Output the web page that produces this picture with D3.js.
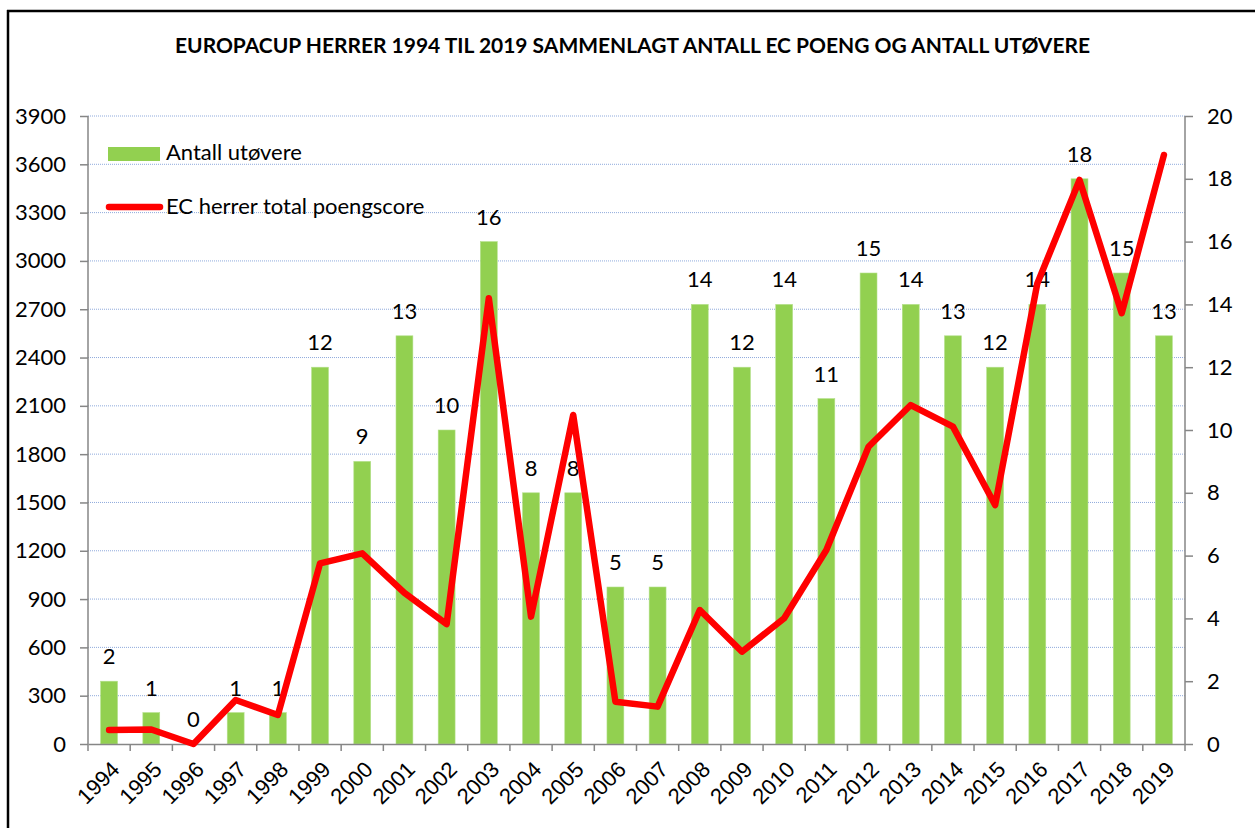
<!DOCTYPE html>
<html>
<head>
<meta charset="utf-8">
<script src="https://cdn.jsdelivr.net/npm/d3@7"></script>
<style>
  body { margin: 0; background: #fff; }
  svg { display: block; font-family: Lato, "Open Sans", sans-serif; }
</style>
</head>
<body>
<div id="chart"></div>
<script>
// data
var years = ["1994","1995","1996","1997","1998","1999","2000","2001","2002","2003","2004","2005","2006",
             "2007","2008","2009","2010","2011","2012","2013","2014","2015","2016","2017","2018","2019"];
var utovere = [2, 1, 0, 1, 1, 12, 9, 13, 10, 16, 8, 8, 5, 5, 14, 12, 14, 11, 15, 14, 13, 12, 14, 18, 15, 13];
var poeng = [87, 90, 0, 273, 180, 1122, 1184, 938, 745, 2768, 791, 2043, 263, 232, 832, 573, 781, 1205,
             1846, 2105, 1971, 1484, 2860, 3503, 2675, 3658];
var leftTicks = d3.range(0, 3901, 300);
var rightTicks = d3.range(0, 21, 2);
var title = "EUROPACUP HERRER 1994 TIL 2019 SAMMENLAGT ANTALL EC POENG OG ANTALL UTØVERE";

var width = 1255, height = 828;
var margin = { top: 116, right: 70, bottom: 84, left: 88 };
var innerW = width - margin.left - margin.right;   // 88 -> 1185
var innerH = height - margin.top - margin.bottom;  // 116 -> 744

var svg = d3.select("#chart").append("svg")
    .attr("width", width)
    .attr("height", height);

// frame (top and left edge only are visible)
svg.append("line").attr("x1", 7).attr("x2", width).attr("y1", 11).attr("y2", 11)
    .attr("stroke", "#000").attr("stroke-width", 2.5);
svg.append("line").attr("x1", 8).attr("x2", 8).attr("y1", 10).attr("y2", height)
    .attr("stroke", "#000").attr("stroke-width", 2.5);

svg.append("text")
    .attr("x", 175).attr("y", 53)
    .attr("textLength", 915).attr("lengthAdjust", "spacingAndGlyphs")
    .style("font-weight", "bold").style("font-size", "20px")
    .text(title);

var g = svg.append("g")
    .attr("transform", "translate(" + margin.left + "," + margin.top + ")");

var x = d3.scaleBand().domain(years).range([0, innerW]).paddingInner(0.6).paddingOuter(0.3);
var yLeft = d3.scaleLinear().domain([0, 3900]).range([innerH, 0]);
var yRight = d3.scaleLinear().domain([0, 20]).range([innerH, 0]);

// dotted gridlines
g.append("g").selectAll("line")
    .data(leftTicks.filter(function (d) { return d > 0; }))
    .enter().append("line")
    .attr("x1", 0).attr("x2", innerW)
    .attr("y1", function (d) { return yLeft(d); })
    .attr("y2", function (d) { return yLeft(d); })
    .attr("stroke", "#8faadc")
    .attr("stroke-width", 1)
    .attr("stroke-dasharray", "1,1");

// bars (right axis)
g.selectAll(".bar")
    .data(utovere)
    .enter().append("rect")
    .attr("class", "bar")
    .attr("x", function (d, i) { return x(years[i]); })
    .attr("width", x.bandwidth())
    .attr("y", function (d) { return yRight(d); })
    .attr("height", function (d) { return innerH - yRight(d); })
    .attr("fill", "#92d050")
    .attr("stroke", "#b4e08a")
    .attr("stroke-width", 0.6);

// bar labels
g.selectAll(".blabel")
    .data(utovere)
    .enter().append("text")
    .attr("class", "blabel")
    .attr("x", function (d, i) { return x(years[i]) + x.bandwidth() / 2; })
    .attr("y", function (d) { return yRight(d) - 17; })
    .attr("text-anchor", "middle")
    .style("font-size", "22px")
    .text(function (d) { return d; });

// axes
var axisColor = "#868686";
var left = g.append("g").call(d3.axisLeft(yLeft).tickValues(leftTicks).tickFormat(d3.format("d"))
    .tickSize(8).tickPadding(14));
var right = g.append("g").attr("transform", "translate(" + innerW + ",0)")
    .call(d3.axisRight(yRight).tickValues(rightTicks).tickSize(8).tickPadding(14));
var bottom = g.append("g").attr("transform", "translate(0," + innerH + ")")
    .call(d3.axisBottom(x).tickSize(0).tickFormat(""));

[left, right, bottom].forEach(function (a) {
    a.select(".domain").attr("stroke", axisColor).attr("stroke-width", 1.5);
    a.selectAll(".tick line").attr("stroke", axisColor).attr("stroke-width", 1.5);
    a.selectAll("text").style("font-family", "Lato, sans-serif").style("font-size", "22px").attr("fill", "#000");
});
left.select(".domain").attr("d", "M0,0V" + innerH);
right.select(".domain").attr("d", "M0,0V" + innerH);

// category boundary ticks on the x axis
var step = x.step();
bottom.append("g").selectAll("line")
    .data(d3.range(years.length + 1))
    .enter().append("line")
    .attr("x1", function (i) { return i * step; })
    .attr("x2", function (i) { return i * step; })
    .attr("y1", 0).attr("y2", 7)
    .attr("stroke", axisColor).attr("stroke-width", 1.5);

// rotated year labels
bottom.append("g").selectAll("text")
    .data(years)
    .enter().append("text")
    .attr("text-anchor", "end")
    .attr("fill", "#000")
    .attr("transform", function (d) {
        return "translate(" + (x(d) + x.bandwidth() / 2 + 1) + ",16) rotate(-45)";
    })
    .attr("dy", "0.7em")
    .style("font-size", "22px")
    .text(function (d) { return d; });

// line (left axis)
var line = d3.line()
    .x(function (d, i) { return x(years[i]) + x.bandwidth() / 2; })
    .y(function (d) { return yLeft(d); });

g.append("path")
    .datum(poeng)
    .attr("d", line)
    .attr("fill", "none")
    .attr("stroke", "#ff0000")
    .attr("stroke-width", 6.5)
    .attr("stroke-linejoin", "round")
    .attr("stroke-linecap", "round");

// legend
var legend = svg.append("g");
legend.append("rect")
    .attr("x", 108).attr("y", 147).attr("width", 52).attr("height", 14)
    .attr("fill", "#92d050");
legend.append("text")
    .attr("x", 166).attr("y", 152).attr("dy", "0.35em")
    .style("font-size", "22px")
    .text("Antall utøvere");
legend.append("line")
    .attr("x1", 109).attr("x2", 160).attr("y1", 207).attr("y2", 207)
    .attr("stroke", "#ff0000").attr("stroke-width", 6.5).attr("stroke-linecap", "round");
legend.append("text")
    .attr("x", 166).attr("y", 206).attr("dy", "0.35em")
    .style("font-size", "22px")
    .text("EC herrer total poengscore");
</script>
</body>
</html>
